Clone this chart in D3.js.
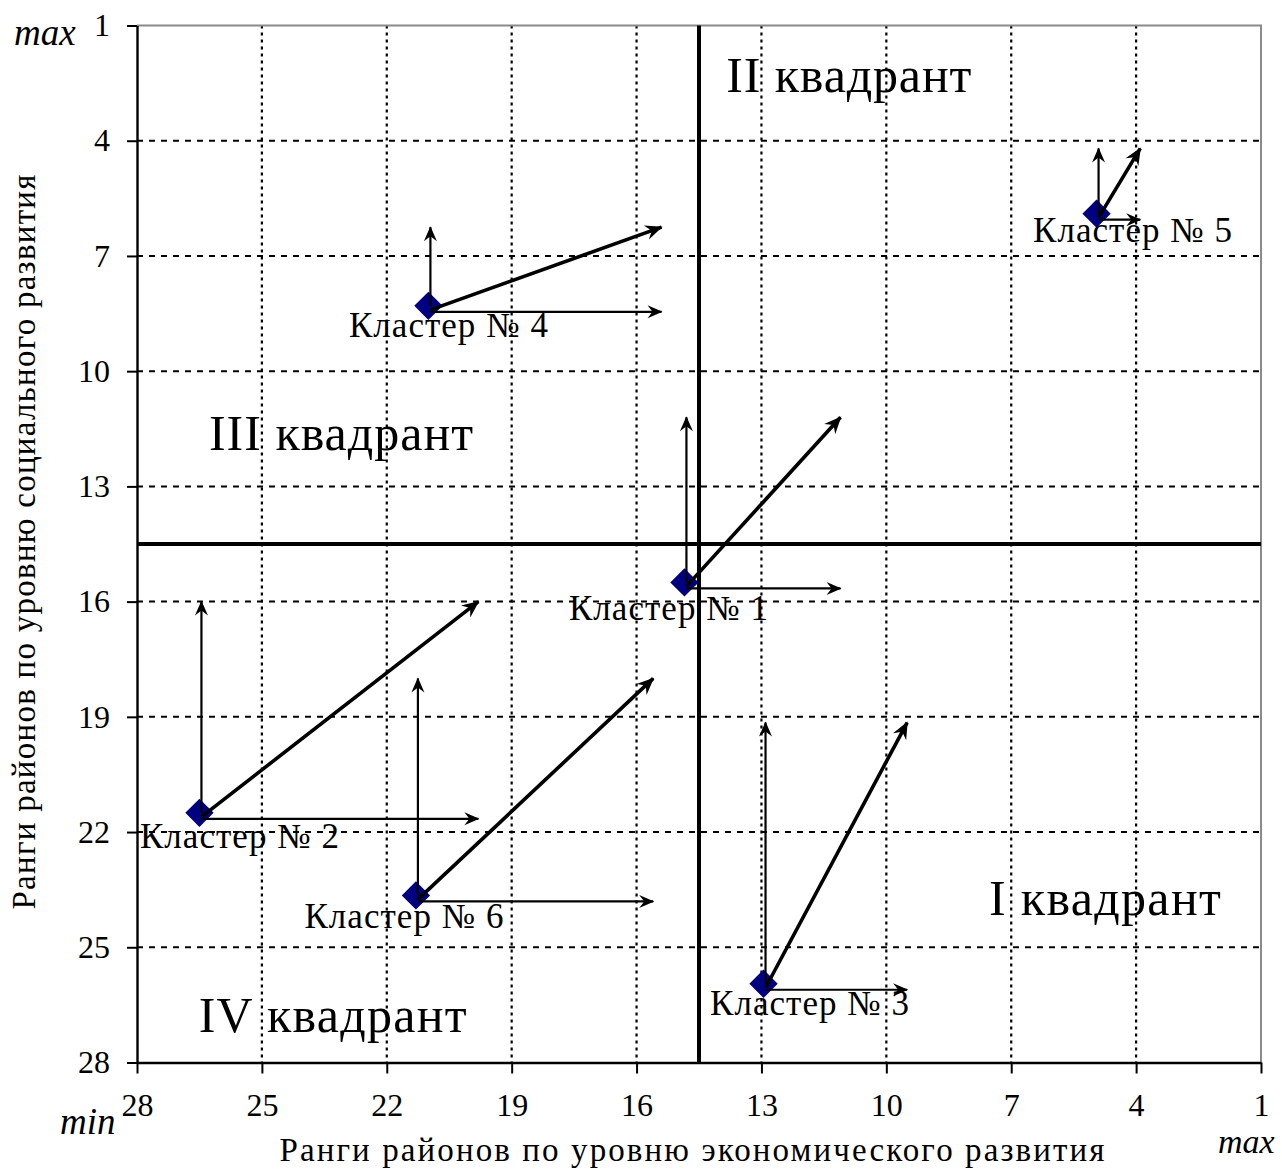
<!DOCTYPE html>
<html lang="ru">
  <head>
    <meta charset="UTF-8" />
    <title>Кластеры районов</title>
    <script src="https://d3js.org/d3.v7.min.js"></script>
    <style>
      body { margin: 0; background: #fff; }
      text { font-family: "Liberation Serif", "Times New Roman", serif; fill: #000; }
    </style>
  </head>
  <body></body>
  <script>
    // clusters and their current / target ranks
    var clusters = ["Кластер № 1", "Кластер № 2", "Кластер № 3", "Кластер № 4", "Кластер № 5", "Кластер № 6"];
    var econRank = [14.85, 26.5, 12.95, 21.0, 4.95, 21.3];
    var socialRank = [15.5, 21.5, 25.95, 8.3, 5.9, 23.65];
    var econTarget = [11.1, 19.8, 9.5, 15.4, 3.9, 15.6];
    var socialTarget = [11.2, 16.0, 19.15, 6.25, 4.2, 18.0];

    var tickValues = [28, 25, 22, 19, 16, 13, 10, 7, 4, 1];
    var quadrantSplit = 14.5;
    var quadrants = ["I квадрант", "II квадрант", "III квадрант", "IV квадрант"];
    var quadrantX = [4.75, 10.9, 23.1, 23.3];
    var quadrantY = [24.15, 2.73, 12.05, 27.2];

    var xTitle = "Ранги районов по уровню экономического развития";
    var yTitle = "Ранги районов по уровню социального развития";

    // label placement (px from each marker) and widths
    var labelDx = [-16, 40, 46, 20, 36, -12];
    var labelDy = [38, 35, 31, 31, 28, 33];
    var quadrantWidth = [232, 245, 264, 268];

    var W = 1282, H = 1169;
    var margin = { top: 25.5, right: 21, bottom: 106.5, left: 137 };
    var width = W - margin.left - margin.right,
      height = H - margin.top - margin.bottom;

    var svg = d3.select("body").append("svg").attr("width", W).attr("height", H);
    var g = svg.append("g").attr("transform", "translate(" + margin.left + "," + margin.top + ")");

    var x = d3.scaleLinear().domain([28, 1]).range([0, width]);
    var y = d3.scaleLinear().domain([1, 28]).range([0, height]);

    var defs = svg.append("defs");
    [["thin", 1], ["thick", 1.15]].forEach(function (m) {
      defs.append("marker")
        .attr("id", "arr-" + m[0])
        .attr("markerUnits", "userSpaceOnUse")
        .attr("viewBox", "-16 -8 18 16")
        .attr("markerWidth", 18 * m[1])
        .attr("markerHeight", 16 * m[1])
        .attr("refX", 0)
        .attr("refY", 0)
        .attr("orient", "auto")
        .append("path")
        .attr("d", "M1,0 L-14,-6.5 L-9,0 L-14,6.5 Z")
        .attr("fill", "#000");
    });

    // grid
    var inner = tickValues.filter(function (v) { return v !== 28 && v !== 1; });
    g.append("g").selectAll("line")
      .data(inner)
      .join("line")
      .attr("x1", d => x(d)).attr("x2", d => x(d))
      .attr("y1", 0).attr("y2", height)
      .attr("stroke", "#000").attr("stroke-width", 2.2)
      .attr("stroke-dasharray", "3,4");

    g.append("g").selectAll("line")
      .data(inner)
      .join("line")
      .attr("x1", 0).attr("x2", width)
      .attr("y1", d => y(d)).attr("y2", d => y(d))
      .attr("stroke", "#000").attr("stroke-width", 2)
      .attr("stroke-dasharray", "6,6");

    // top and right frame
    g.append("path")
      .attr("d", "M0," + y(1) + "H" + x(1) + "V" + y(28))
      .attr("fill", "none").attr("stroke", "#8a8a8a").attr("stroke-width", 2);

    // axes
    var xAxis = g.append("g")
      .attr("transform", "translate(0," + height + ")")
      .call(d3.axisBottom(x).tickValues(tickValues).tickSize(11).tickSizeOuter(0).tickPadding(20));
    var yAxis = g.append("g")
      .call(d3.axisLeft(y).tickValues(tickValues).tickSize(10).tickSizeOuter(0).tickPadding(17));
    [xAxis, yAxis].forEach(function (a) {
      a.select(".domain").attr("stroke-width", 2.4);
      a.selectAll(".tick line").attr("stroke-width", 2);
      a.selectAll(".tick text").attr("font-size", 32);
    });

    // quadrant dividers
    g.append("line")
      .attr("x1", x(quadrantSplit)).attr("x2", x(quadrantSplit))
      .attr("y1", y(1)).attr("y2", y(28))
      .attr("stroke", "#000").attr("stroke-width", 4);
    g.append("line")
      .attr("x1", 0).attr("x2", width)
      .attr("y1", y(quadrantSplit)).attr("y2", y(quadrantSplit))
      .attr("stroke", "#000").attr("stroke-width", 4);

    // quadrant labels
    g.append("g").selectAll("text")
      .data(quadrants)
      .join("text")
      .attr("x", (d, i) => x(quadrantX[i]))
      .attr("y", (d, i) => y(quadrantY[i]))
      .attr("text-anchor", "middle")
      .attr("font-size", 50)
      .attr("textLength", (d, i) => quadrantWidth[i])
      .attr("lengthAdjust", "spacing")
      .text(d => d);

    var idx = d3.range(clusters.length);

    // labels
    g.append("g").selectAll("text")
      .data(idx)
      .join("text")
      .attr("x", i => x(econRank[i]) + labelDx[i])
      .attr("y", i => y(socialRank[i]) + labelDy[i])
      .attr("text-anchor", "middle")
      .attr("font-size", 35)
      .attr("textLength", 199)
      .attr("lengthAdjust", "spacing")
      .text(i => clusters[i]);

    // markers
    g.append("g").selectAll("path")
      .data(idx)
      .join("path")
      .attr("d", d3.symbol(d3.symbolSquare, 400))
      .attr("transform", i => "translate(" + x(econRank[i]) + "," + y(socialRank[i]) + ") rotate(45)")
      .attr("fill", "#000080");

    // arrows: social (up), economic (right), combined (diagonal)
    var arrows = g.append("g").attr("fill", "none").attr("stroke", "#000");
    arrows.selectAll(".up")
      .data(idx)
      .join("line")
      .attr("class", "up")
      .attr("x1", i => x(econRank[i]) + 2).attr("x2", i => x(econRank[i]) + 2)
      .attr("y1", i => y(socialRank[i])).attr("y2", i => y(socialTarget[i]))
      .attr("stroke-width", 2.2)
      .attr("marker-end", "url(#arr-thin)");
    arrows.selectAll(".right")
      .data(idx)
      .join("line")
      .attr("class", "right")
      .attr("x1", i => x(econRank[i]) + 2).attr("x2", i => x(econTarget[i]))
      .attr("y1", i => y(socialRank[i]) + 6).attr("y2", i => y(socialRank[i]) + 6)
      .attr("stroke-width", 2.2)
      .attr("marker-end", "url(#arr-thin)");
    arrows.selectAll(".diag")
      .data(idx)
      .join("line")
      .attr("class", "diag")
      .attr("x1", i => x(econRank[i]) + 2).attr("x2", i => x(econTarget[i]))
      .attr("y1", i => y(socialRank[i]) + 4).attr("y2", i => y(socialTarget[i]))
      .attr("stroke-width", 3.6)
      .attr("marker-end", "url(#arr-thick)");

    // axis titles and min/max marks
    svg.append("text")
      .attr("x", 692)
      .attr("y", 1161)
      .attr("text-anchor", "middle")
      .attr("font-size", 33)
      .attr("textLength", 825)
      .attr("lengthAdjust", "spacing")
      .text(xTitle);
    svg.append("text")
      .attr("transform", "translate(35,542) rotate(-90)")
      .attr("text-anchor", "middle")
      .attr("font-size", 33)
      .attr("textLength", 735)
      .attr("lengthAdjust", "spacing")
      .text(yTitle);

    svg.append("text").attr("x", 14).attr("y", 45).attr("font-size", 37).attr("font-style", "italic").text("max");
    svg.append("text").attr("x", 60).attr("y", 1134).attr("font-size", 37).attr("font-style", "italic").text("min");
    svg.append("text").attr("x", 1218).attr("y", 1153).attr("font-size", 34).attr("font-style", "italic").text("max");
  </script>
</html>
